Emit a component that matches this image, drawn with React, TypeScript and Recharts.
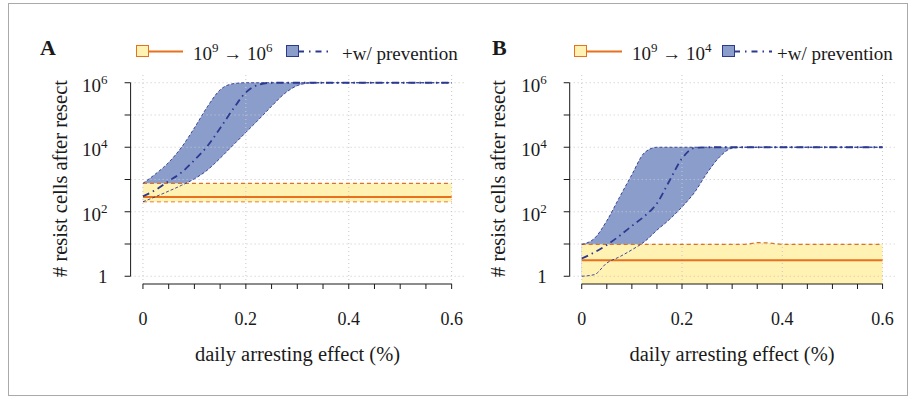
import React from 'react'
import { ComposedChart, Area, Line, XAxis, YAxis, ReferenceLine } from 'recharts'

// daily arresting effect (x)
const effect = [0, 0.025, 0.05, 0.075, 0.1, 0.125, 0.15, 0.175, 0.2, 0.225, 0.25, 0.275, 0.3, 0.325, 0.35, 0.375, 0.4, 0.6]

// all counts are log10(# resist cells)
// panel A: 10^9 -> 10^6
const baseHiA = [2.88, 2.88, 2.88, 2.88, 2.88, 2.88, 2.88, 2.88, 2.88, 2.88, 2.88, 2.88, 2.88, 2.88, 2.88, 2.88, 2.88, 2.88]
const baseMidA = [2.46, 2.46, 2.46, 2.46, 2.46, 2.46, 2.46, 2.46, 2.46, 2.46, 2.46, 2.46, 2.46, 2.46, 2.46, 2.46, 2.46, 2.46]
const baseLoA = [2.31, 2.31, 2.31, 2.31, 2.31, 2.31, 2.31, 2.31, 2.31, 2.31, 2.31, 2.31, 2.31, 2.31, 2.31, 2.31, 2.31, 2.31]
const prevHiA = [2.88, 3.18, 3.53, 4.0, 4.6, 5.25, 5.78, 5.97, 6.0, 6.0, 6.0, 6.0, 6.0, 6.0, 6.0, 6.0, 6.0, 6.0]
const prevMidA = [2.48, 2.68, 2.95, 3.22, 3.6, 4.03, 4.59, 5.18, 5.7, 5.94, 6.0, 6.0, 6.0, 6.0, 6.0, 6.0, 6.0, 6.0]
const prevLoA = [2.31, 2.47, 2.64, 2.82, 3.02, 3.29, 3.66, 4.06, 4.46, 4.86, 5.27, 5.66, 5.91, 5.99, 6.0, 6.0, 6.0, 6.0]

// panel B: 10^9 -> 10^4
const baseHiB = [0.99, 0.99, 0.99, 0.99, 0.99, 0.99, 0.99, 0.99, 0.99, 0.99, 0.99, 0.99, 0.99, 0.99, 1.04, 1.03, 0.99, 0.99]
const baseMidB = [0.5, 0.5, 0.5, 0.5, 0.5, 0.5, 0.5, 0.5, 0.5, 0.5, 0.5, 0.5, 0.5, 0.5, 0.5, 0.5, 0.5, 0.5]
const baseLoB = [-1, -1, -1, -1, -1, -1, -1, -1, -1, -1, -1, -1, -1, -1, -1, -1, -1, -1]
const prevHiB = [0.99, 1.17, 1.72, 2.44, 3.15, 3.83, 4.0, 4.0, 4.0, 4.0, 4.0, 4.0, 4.0, 4.0, 4.0, 4.0, 4.0, 4.0]
const prevMidB = [0.55, 0.74, 0.97, 1.25, 1.56, 1.86, 2.26, 2.96, 3.65, 3.98, 4.0, 4.0, 4.0, 4.0, 4.0, 4.0, 4.0, 4.0]
const prevLoB = [0.0, 0.05, 0.41, 0.6, 0.82, 1.07, 1.43, 1.76, 2.15, 2.6, 3.2, 3.7, 3.97, 4.0, 4.0, 4.0, 4.0, 4.0]

const xTicks = [0, 0.05, 0.1, 0.15, 0.2, 0.25, 0.3, 0.35, 0.4, 0.45, 0.5, 0.55, 0.6]
const xLabels = [0, 0.2, 0.4, 0.6]
const yTicks = [0, 1, 2, 3, 4, 5, 6]

const SERIF = "'Liberation Serif', 'DejaVu Serif', 'Times New Roman', serif"
const txt = { fontFamily: SERIF }
const INK = '#1a1a1a'
const GRID = '#c8c8c8'
const BLUE = '#2b3990'
const BLUE_FILL = '#8a9dcb'
const YELLOW = '#fff2b3'
const ORANGE = '#e8701e'

function XTick(props: any) {
  const { x, y, payload } = props
  const v = payload.value
  if (!xLabels.some(l => Math.abs(l - v) < 1e-6)) return null
  return (
    <text x={x} y={y + 34} textAnchor="middle" style={txt} fontSize={18} fill={INK}>
      {String(v)}
    </text>
  )
}

function YTick(props: any) {
  const { x, y, payload } = props
  const v = payload.value
  if (v % 2 !== 0) return null
  if (v === 0) {
    return (
      <text x={x - 15} y={y + 6.5} textAnchor="end" style={txt} fontSize={19} fill={INK}>1</text>
    )
  }
  return (
    <text x={x - 15} y={y + 9} textAnchor="end" style={txt} fontSize={19} fill={INK}>
      10<tspan dy={-8} fontSize={13}>{v}</tspan>
    </text>
  )
}

type PanelProps = {
  rows: any[]
  left: number
  width: number
  marginLeft: number
  marginRight: number
  showLow: boolean
}

function Panel({ rows, left, width, marginLeft, marginRight, showLow }: PanelProps) {
  return (
    <div style={{ position: 'absolute', left, top: 0 }}>
      <ComposedChart
        width={width}
        height={397}
        data={rows}
        margin={{ top: 75, right: marginRight, bottom: 53, left: marginLeft }}
      >
        <XAxis
          type="number"
          dataKey="x"
          domain={[-0.024, 0.624]}
          ticks={xTicks}
          allowDataOverflow
          axisLine={false}
          tickLine={{ stroke: INK }}
          tickSize={5}
          height={60}
          tick={<XTick />}
          interval={0}
        />
        <YAxis
          type="number"
          domain={[-0.24, 6.24]}
          ticks={yTicks}
          allowDataOverflow
          axisLine={false}
          tickLine={{ stroke: INK }}
          tickSize={6}
          width={80}
          tick={<YTick />}
          interval={0}
        />
        {yTicks.map(t => (
          <ReferenceLine key={'h' + t} y={t} stroke={GRID} strokeDasharray="1 3" />
        ))}
        {xLabels.map(t => (
          <ReferenceLine key={'v' + t} x={t} stroke={GRID} strokeDasharray="1 3" />
        ))}
        <Area
          type="monotone"
          dataKey={(d: any) => [d.prevLo, d.prevHi]}
          fill={BLUE_FILL}
          fillOpacity={1}
          stroke="none"
          isAnimationActive={false}
          activeDot={false}
        />
        <Area
          type="monotone"
          dataKey={(d: any) => [d.baseLo, d.baseHi]}
          fill={YELLOW}
          fillOpacity={1}
          stroke="none"
          isAnimationActive={false}
          activeDot={false}
        />
        <Line type="monotone" dataKey="baseHi" stroke="#d9722a" strokeWidth={1.3} strokeDasharray="4 3" dot={false} activeDot={false} isAnimationActive={false} />
        {showLow && (
          <Line type="monotone" dataKey="baseLo" stroke="#f1a866" strokeWidth={1.6} strokeDasharray="4 3" dot={false} activeDot={false} isAnimationActive={false} />
        )}
        <Line type="monotone" dataKey="baseMid" stroke={ORANGE} strokeWidth={2} dot={false} activeDot={false} isAnimationActive={false} />
        <Line type="monotone" dataKey="prevHi" stroke={BLUE} strokeWidth={0.9} strokeDasharray="3 2" dot={false} activeDot={false} isAnimationActive={false} />
        <Line type="monotone" dataKey="prevLo" stroke={BLUE} strokeWidth={0.9} strokeDasharray="3 2" dot={false} activeDot={false} isAnimationActive={false} />
        <Line type="monotone" dataKey="prevMid" stroke={BLUE} strokeWidth={1.8} strokeDasharray="7 4 1.5 4" dot={false} activeDot={false} isAnimationActive={false} />
        <ReferenceLine segment={[{ x: -0.024, y: 0 }, { x: -0.024, y: 6 }]} stroke={INK} ifOverflow="visible" />
        <ReferenceLine segment={[{ x: 0, y: -0.24 }, { x: 0.6, y: -0.24 }]} stroke={INK} ifOverflow="visible" />
      </ComposedChart>
    </div>
  )
}

function LegendRow({ sq1, line1, txt1, sq2, line2, txt2, to }: any) {
  return (
    <g style={txt} fill={INK}>
      <line x1={sq1 + 12} y1={51.5} x2={line1} y2={51.5} stroke={ORANGE} strokeWidth={2} />
      <rect x={sq1 + 0.5} y={45.5} width={12} height={11} fill={YELLOW} stroke={ORANGE} strokeWidth={1} />
      <text x={txt1} y={60} fontSize={19} style={txt}>
        10<tspan dy={-8} fontSize={13}>9</tspan>
        <tspan dy={8}> → 10</tspan>
        <tspan dy={-8} fontSize={13}>{to}</tspan>
      </text>
      <line x1={sq2 + 12} y1={51.5} x2={line2} y2={51.5} stroke={BLUE} strokeWidth={1.8} strokeDasharray="6 5 1.5 5" />
      <rect x={sq2 + 0.5} y={45.5} width={12} height={11} fill={BLUE_FILL} stroke={BLUE} strokeWidth={1} />
      <text x={txt2} y={60} fontSize={19} style={txt}>+w/ prevention</text>
    </g>
  )
}

export default function App() {
  const rowsA = effect.map((x, i) => ({
    x,
    baseHi: baseHiA[i],
    baseMid: baseMidA[i],
    baseLo: baseLoA[i],
    prevHi: prevHiA[i],
    prevMid: prevMidA[i],
    prevLo: prevLoA[i],
  }))
  const rowsB = effect.map((x, i) => ({
    x,
    baseHi: baseHiB[i],
    baseMid: baseMidB[i],
    baseLo: baseLoB[i],
    prevHi: prevHiB[i],
    prevMid: prevMidB[i],
    prevLo: prevLoB[i],
  }))

  return (
    <div style={{ position: 'fixed', left: 0, top: 0, width: 916, height: 397, background: '#fff', overflow: 'hidden', fontFamily: SERIF }}>
      <Panel rows={rowsA} left={0} width={480} marginLeft={50.6} marginRight={16} showLow />
      <Panel rows={rowsB} left={460} width={456} marginLeft={29.7} marginRight={21.4} showLow={false} />
      <svg width={916} height={397} style={{ position: 'absolute', left: 0, top: 0, pointerEvents: 'none' }}>
        <rect x={8.5} y={3.5} width={899} height={392} fill="none" stroke="#aaa" />
        <text x={40} y={55} style={txt} fontSize={22} fontWeight="bold" fill={INK}>A</text>
        <text x={492} y={55} style={txt} fontSize={22} fontWeight="bold" fill={INK}>B</text>
        <LegendRow sq1={136} line1={183} txt1={193} sq2={286} line2={333} txt2={342} to={6} />
        <LegendRow sq1={574} line1={622} txt1={632} sq2={722} line2={772} txt2={777} to={4} />
        <text x={297.5} y={361} textAnchor="middle" style={txt} fontSize={20.5} fill={INK}>daily arresting effect (%)</text>
        <text x={732} y={361} textAnchor="middle" style={txt} fontSize={20.5} fill={INK}>daily arresting effect (%)</text>
        <text transform="translate(67,178.5) rotate(-90)" textAnchor="middle" style={txt} fontSize={20.5} fill={INK}>
          # resist cells after resect
        </text>
        <text transform="translate(505,178.5) rotate(-90)" textAnchor="middle" style={txt} fontSize={20.5} fill={INK}>
          # resist cells after resect
        </text>
      </svg>
    </div>
  )
}
